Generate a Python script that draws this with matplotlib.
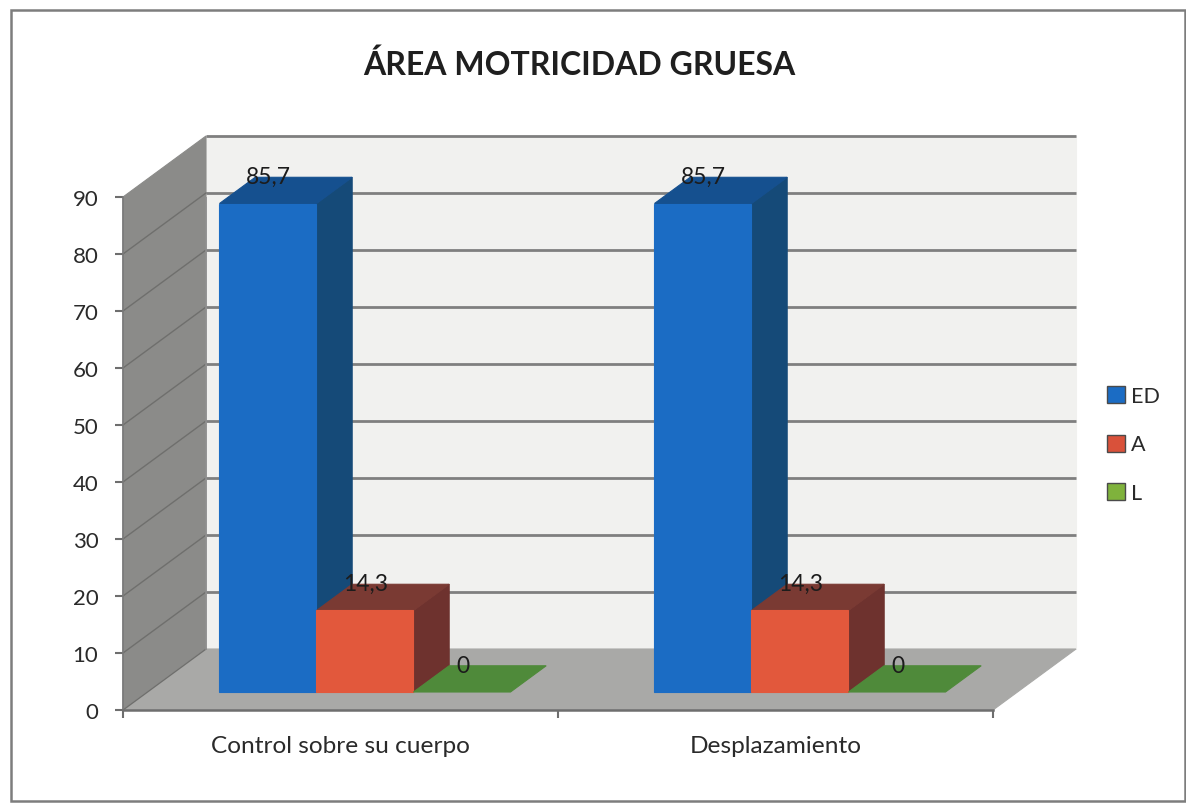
import matplotlib
matplotlib.use('Agg')
import matplotlib.pyplot as plt
from matplotlib.patches import Polygon, Patch, Rectangle

plt.rcParams['font.family'] = ['Lato', 'DejaVu Sans']

title = 'ÁREA MOTRICIDAD GRUESA'
categories = ['Control sobre su cuerpo', 'Desplazamiento']
series = ['ED', 'A', 'L']
ed_values = [85.7, 85.7]
a_values = [14.3, 14.3]
l_values = [0, 0]
yticks = [0, 10, 20, 30, 40, 50, 60, 70, 80, 90]

front_colors = ['#1b6cc4', '#e2583c', '#6fa33a']
top_colors = ['#15508f', '#7a3a33', '#4f8a3a']
side_colors = ['#154a78', '#6e322e', '#4f8a3a']
legend_colors = ['#1b6cc4', '#d9513a', '#7fb23c']

W, H = 1186, 804
fig = plt.figure(figsize=(W / 100, H / 100), dpi=100, facecolor='white')

# chart frame
fig.add_artist(Rectangle((11 / W, 1 - 802 / H), 1174 / W, 791 / H, transform=fig.transFigure,
                         fill=False, edgecolor='#7d7d7d', linewidth=1.8))

ax = fig.add_axes([123 / W, 1 - 711 / H, 870 / W, 513 / H])
ax.set_xlim(0, 2)
ax.set_ylim(0, 90)
ax.patch.set_visible(False)

# depth of the 3d box, in data units (83 px across, 61 px up)
depth_x = 83 / 435
depth_y = 61 / 5.7


def pt(x, y, d):
    return (x + d * depth_x, y + d * depth_y)


def poly(points, color, z, edge=None):
    ax.add_patch(Polygon(points, closed=True, facecolor=color, edgecolor=edge or color,
                         linewidth=0.8, zorder=z, clip_on=False))


# walls and floor
poly([pt(0, 0, 1), pt(2, 0, 1), pt(2, 90, 1), pt(0, 90, 1)], '#f1f1ef', 1)
poly([pt(0, 0, 0), pt(0, 0, 1), pt(0, 90, 1), pt(0, 90, 0)], '#8b8b89', 1)
poly([pt(0, 0, 0), pt(2, 0, 0), pt(2, 0, 1), pt(0, 0, 1)], '#a9a9a7', 1)

for v in yticks:
    if v > 0:
        ax.plot([pt(0, v, 1)[0], pt(2, v, 1)[0]], [pt(0, v, 1)[1]] * 2, color='#7f7f7f',
                lw=2, zorder=2, clip_on=False, solid_capstyle='butt')
    if v < 90:
        ax.plot([pt(0, v, 0)[0], pt(0, v, 1)[0]], [pt(0, v, 0)[1], pt(0, v, 1)[1]], color='#6f6f6d',
                lw=1, zorder=2, clip_on=False)
ax.plot([pt(0, 0, 1)[0], pt(0, 90, 1)[0]], [pt(0, 0, 1)[1], pt(0, 90, 1)[1]], color='#8f8f8f', lw=1.2, zorder=2)

# bars
bar_w = 97 / 435
gap = 72 / 435
d0 = 0.295
d1 = 0.295 + 0.43
z = 3
for c in range(len(categories)):
    for s, vals in enumerate([ed_values, a_values, l_values]):
        v = vals[c]
        x0 = c + gap + s * bar_w
        x1 = x0 + bar_w
        if v > 0:
            poly([pt(x1, 0, d0), pt(x1, 0, d1), pt(x1, v, d1), pt(x1, v, d0)], side_colors[s], z)
            poly([pt(x0, v, d0), pt(x1, v, d0), pt(x1, v, d1), pt(x0, v, d1)], top_colors[s], z)
            poly([pt(x0, 0, d0), pt(x1, 0, d0), pt(x1, v, d0), pt(x0, v, d0)], front_colors[s], z + 0.5)
        else:
            poly([pt(x0, 0, d0), pt(x1, 0, d0), pt(x1, 0, d1), pt(x0, 0, d1)], top_colors[s], z)
        lx, ly = pt(x0 + bar_w / 2, v, d1)
        ax.text(lx - 35 / 435, ly + 0.1, str(v).replace('.', ','), ha='center', va='center', fontsize=16.5,
                color='#1c1c1c', zorder=10)
        z += 1

# axes
for side in ['top', 'right']:
    ax.spines[side].set_visible(False)
ax.spines['left'].set_color('#7a7a7a')
ax.spines['bottom'].set_color('#6e6e6e')
ax.spines['left'].set_linewidth(1.2)
ax.spines['bottom'].set_linewidth(1.8)
ax.set_yticks(yticks)
ax.set_xticks([0, 1, 2])
ax.set_xticklabels([])
ax.tick_params(axis='both', color='#6e6e6e', width=1.5, length=5.8, labelsize=16, labelcolor='#2a2a2a')
ax.tick_params(axis='y', pad=12)
for i, name in enumerate(categories):
    ax.text(i + 0.5, -6.3, name, ha='center', va='center', fontsize=17.6, color='#2a2a2a')

fig.text(579 / W, 1 - 75 / H, title, ha='center', va='baseline', fontsize=23, fontweight='bold', color='#1f1f1f')

handles = [Patch(facecolor=legend_colors[i], edgecolor='#4a4a4a', linewidth=1) for i in range(3)]
fig.legend(handles, series, loc='center left', bbox_to_anchor=(1107 / W, 1 - 445.5 / H), frameon=False,
           fontsize=15.5, handlelength=0.84, handleheight=0.84, handletextpad=0.28, labelspacing=1.33,
           borderpad=0, borderaxespad=0, labelcolor='#2a2a2a')

fig.savefig('out.png', dpi=100)
